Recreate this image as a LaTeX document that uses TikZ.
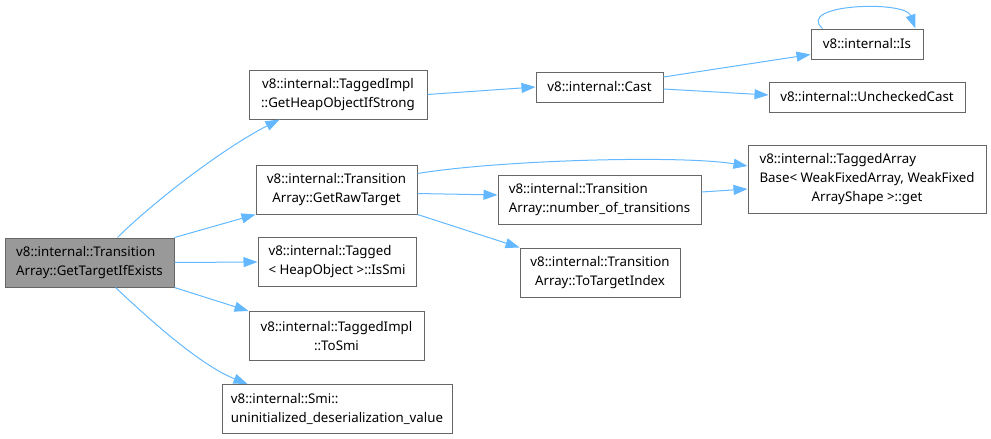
\documentclass[tikz,border=0pt]{standalone}
\usepackage{fontspec}
\setmainfont{Noto Sans}
\usetikzlibrary{arrows.meta}
\definecolor{callEdge}{RGB}{99,184,255}
\definecolor{fnBorder}{RGB}{102,102,102}
\definecolor{fnRoot}{RGB}{153,153,153}

\begin{document}
\begin{tikzpicture}[
    x=1pt, y=-1pt,
    fn/.style={
        rectangle, draw=fnBorder, fill=white, line width=1pt,
        inner sep=0pt, minimum height=49pt, minimum width=#1,
        font=\fontsize{13.3}{19}\selectfont, align=center
    },
    fn/.default=150pt,
    fnleft/.style={fn=#1, align=left},
    fnroot/.style={fnleft=#1, fill=fnRoot},
    call/.style={-{Triangle[length=14pt, width=10pt]}, line width=1pt, draw=callEdge}
]
\useasboundingbox (0,0) rectangle (991,439);

% Caller — column 1
\node[fnroot=169pt] (root) at (89.5,262.5) {v8::internal::Transition\\Array::GetTargetIfExists};

% Callees — column 2
\node[fn=178pt] (heap) at (338,94.5) {v8::internal::TaggedImpl\\::GetHeapObjectIfStrong};
\node[fn=161pt] (raw) at (336.5,189.5) {v8::internal::Transition\\Array::GetRawTarget};
\node[fnleft=158pt] (issmi) at (337,262) {v8::internal::Tagged\\< HeapObject >::IsSmi};
\node[fn=175pt] (tosmi) at (336.5,336) {v8::internal::TaggedImpl\\::ToSmi};
\node[fnleft=230pt] (uninit) at (337,409) {v8::internal::Smi::\\uninitialized\_deserialization\_value};

% Column 3
\node[fn=127pt, minimum height=30pt] (cast) at (599.5,87) {v8::internal::Cast};
\node[fnleft=203pt] (ntrans) at (599.5,200) {v8::internal::Transition\\Array::number\_of\_transitions};
\node[fn=160pt] (toindex) at (600,272.5) {v8::internal::Transition\\Array::ToTargetIndex};

% Column 4
\node[fn=112pt, minimum height=30pt] (is) at (867,44) {v8::internal::Is};
\node[fn=196pt, minimum height=30pt] (unchecked) at (867,97) {v8::internal::UncheckedCast};
\node[fnleft=238pt, minimum height=68pt] (get) at (867,179) {v8::internal::TaggedArray\\Base< WeakFixedArray, WeakFixed\\\hspace*{52pt}ArrayShape >::get};

% === Calls from the root ===
\draw[call] ([xshift=28pt]root.north) .. controls (150,205) and (220,150) .. ([xshift=31pt]heap.south west);
\draw[call] (root.north east) -- (raw.south west);
\draw[call] (root.east) -- (issmi.west);
\draw[call] (root.south east) -- (tosmi.north west);
\draw[call] ([xshift=26pt]root.south) .. controls (150,320) and (200,365) .. ([xshift=26pt]uninit.north west);

% === Deeper calls ===
\draw[call] (heap.east) -- (cast.west);
\draw[call] ([yshift=10pt]cast.east) -- ([yshift=5pt]is.south west);
\draw[call] ([yshift=-2pt]cast.east) -- ([yshift=2pt]unchecked.west);
\draw[call] ([xshift=12pt]is.north west) .. controls (795,4) and (905,0) .. ([xshift=-8pt]is.north east);

\draw[call] ([yshift=16pt]raw.east) .. controls (500,160) and (680,155) .. ([yshift=13pt]get.west);
\draw[call] ([yshift=-4pt]raw.east) -- ([yshift=5pt]ntrans.west);
\draw[call] (raw.south east) -- (toindex.north west);
\draw[call] ([yshift=8pt]ntrans.east) -- ([yshift=-10pt]get.west);

\end{tikzpicture}
\end{document}
